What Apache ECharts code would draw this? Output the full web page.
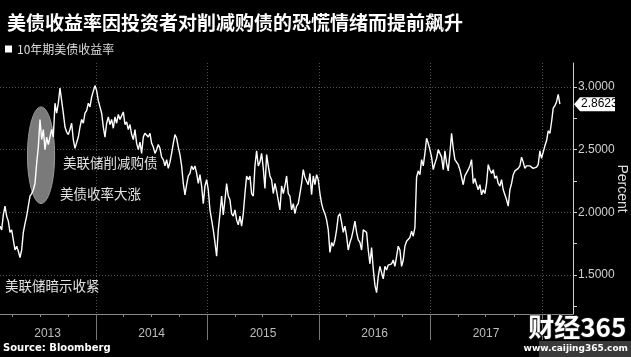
<!DOCTYPE html>
<html><head><meta charset="utf-8">
<script src="https://cdn.jsdelivr.net/npm/echarts@6/dist/echarts.min.js"></script>
<style>html,body{margin:0;padding:0;background:#000;}#c{width:631px;height:357px;}</style>
</head><body><div id="c"></div>
<script>
// ---------- data ----------
const chartTitle = '美债收益率因投资者对削减购债的恐慌情绪而提前飙升';
const seriesName = '10年期美债收益率';
const sourceText = 'Source: Bloomberg';
const axisName = 'Percent';
const startDate = '2013-02-20';
const endDate = '2018-03-01';
const axisMinDate = '2013-02-20';
const axisMaxDate = '2018-04-13';
const yMin = 1.19, yMax = 3.19;
const yTickLabels = [1.5, 2.0, 2.5, 3.0];
const yMinorTicks = [1.25, 1.75, 2.25, 2.75];
const yearStarts = ['2014-01-01','2015-01-01','2016-01-01','2017-01-01','2018-01-01'];
const yearLabelDates = ['2013-07-26','2014-07-02','2015-07-02','2016-07-02','2017-07-02'];
const quarterTicks = ['2013-04-01','2013-07-01','2013-10-01','2014-04-01','2014-07-01','2014-10-01',
  '2015-04-01','2015-07-01','2015-10-01','2016-04-01','2016-07-01','2016-10-01',
  '2017-04-01','2017-07-01','2017-10-01','2018-04-01'];
const lastValueLabel = '2.8623';

const yieldsA = [1.89,1.86,1.98,2.05,1.97,1.93,1.84,1.86,1.78,1.70,
1.73,1.69,1.64,1.70,1.84,1.91,1.97,1.97,2.13,2.15,
2.18,2.23,2.39,2.52,2.74,2.58,2.66,2.50,2.60,2.54,
2.60,2.66,2.60,2.87,2.79,2.87,2.99,2.89,2.79,2.68,
2.64,2.62,2.66,2.71,2.58,2.51,2.52,2.60,2.68,2.74,
2.71,2.79,2.81,2.87,2.84,2.92,2.93,3.01,2.97,2.89,
2.84,2.79,2.68,2.60,2.71,2.76,2.70,2.74,2.67,2.76,
2.71,2.78,2.74];
const yieldsB = [2.74,2.80,2.70,2.72,2.66,2.70,2.62,2.58,2.66,2.55,
2.50,2.56,2.47,2.60,2.63,2.64,2.60,2.63,2.55,2.52,
2.47,2.50,2.54,2.51,2.44,2.42,2.37,2.42,2.35,2.40,
2.47,2.55,2.62,2.59,2.52,2.46,2.37,2.23,2.14,2.22,
2.29,2.31,2.37,2.34,2.37,2.31,2.23,2.30,2.21,2.07,
2.21,2.26,2.18,2.02,1.94,1.86,1.76,1.65,1.86,1.99,
2.13,1.98,2.10,2.23,2.13,2.10,1.99,1.97,2.02];
const yieldsC = [1.94,1.90,1.97,1.89,1.99,2.15,2.29,2.26,2.29,2.15,
2.13,2.37,2.49,2.37,2.40,2.47,2.35,2.19,2.46,2.37,
2.29,2.26,2.15,2.23,2.17,2.18,2.02,2.21,2.15,2.21,
2.29,2.15,2.13,2.02,2.07,1.99,2.05,2.07,2.15,2.23,
2.34,2.28,2.29,2.22,2.31,2.14,2.29,2.22,2.30,2.26,
2.15,2.07,2.02,1.99,1.94,1.86,1.68,1.76,1.73,1.78,
1.86,1.97,1.99,1.92,1.84,1.89,1.81,1.70,1.76];
const yieldsD = [1.80,1.86,1.93,1.84,1.78,1.76,1.70,1.86,1.85,1.84,
1.70,1.59,1.72,1.55,1.42,1.36,1.49,1.57,1.56,1.47,
1.57,1.54,1.58,1.57,1.59,1.62,1.57,1.65,1.73,1.70,
1.57,1.62,1.73,1.77,1.76,1.80,1.85,1.81,1.88,2.28,
2.33,2.30,2.42,2.37,2.47,2.59,2.55,2.50,2.44,2.34,
2.39,2.43,2.50,2.47,2.44,2.34,2.49,2.39,2.33,2.47,
2.63,2.51,2.42,2.41,2.38,2.34,2.34,2.22,2.29];
const yieldsE = [2.29,2.34,2.37,2.42,2.23,2.27,2.22,2.18,2.22,2.14,
2.18,2.15,2.23,2.38,2.34,2.31,2.34,2.27,2.29,2.23,
2.21,2.26,2.18,2.17,2.10,2.05,2.18,2.23,2.30,2.33,
2.34,2.35,2.37,2.44,2.40,2.35,2.37,2.37,2.37,2.36,
2.35,2.36,2.36,2.38,2.49,2.43,2.42,2.53,2.57,2.65,
2.63,2.72,2.83,2.85,2.88,2.94,2.8623];

// ellipse highlight (data coordinates)
const ellipseDates = ['2013-05-21','2013-08-18'];
const ellipseValues = [2.07, 2.84];

const annotationTexts = ['美联储削减购债','美债收率大涨','美联储暗示收紧'];

// ---------- build ----------
const ts = s => new Date(s + 'T00:00:00Z').getTime();
const values = [].concat(yieldsA, yieldsB, yieldsC, yieldsD, yieldsE);
const t0 = ts(startDate), t1 = ts(endDate);
const data = values.map((v, i) => [t0 + (t1 - t0) * i / (values.length - 1), v]);

const CJK = '"Noto Sans CJK SC", "Noto Sans", sans-serif';
const LAT = '"Liberation Sans", Arial, sans-serif';
const grid = {left:0, right:58, top:63, bottom:43, containLabel:false, outerBoundsMode:'none'};
const chart = echarts.init(document.getElementById('c'), null, {renderer:'canvas'});
const dotted = {color:'#505050', type:[1,2], width:1};

chart.setOption({
  backgroundColor:'#000',
  animation:false,
  textStyle:{fontFamily:CJK},
  title:{text:chartTitle, left:2, top:8, textStyle:{color:'#fff', fontSize:19, fontWeight:'bold', fontFamily:CJK}},
  legend:{data:[seriesName], left:0, top:38, icon:'rect', itemWidth:7, itemHeight:7, itemGap:6,
    textStyle:{color:'#ddd', fontSize:12, fontFamily:CJK}},
  grid:grid,
  xAxis:[
    {type:'value', min:ts(axisMinDate), max:ts(axisMaxDate),
      axisLine:{show:true, onZero:false, lineStyle:{color:'#8a8a8a'}},
      axisTick:{show:true, customValues:quarterTicks.map(ts), length:3, lineStyle:{color:'#8a8a8a'}},
      axisLabel:{show:false}, splitLine:{show:false}},
    {type:'value', position:'bottom', min:ts(axisMinDate), max:ts(axisMaxDate),
      axisLine:{show:false, onZero:false},
      axisTick:{show:true, customValues:yearStarts.map(ts), length:26, lineStyle:{color:'#777'}},
      axisLabel:{show:true, customValues:yearLabelDates.map(ts), formatter:v => String(new Date(v).getUTCFullYear()),
        color:'#bdbdbd', fontSize:12, margin:14, fontFamily:LAT},
      splitLine:{show:true, lineStyle:dotted}}
  ],
  yAxis:[
    {type:'value', position:'right', min:yMin, max:yMax,
      axisLine:{show:true, onZero:false, lineStyle:{color:'#cfcfcf'}},
      axisTick:{show:true, customValues:yTickLabels, length:4, lineStyle:{color:'#cfcfcf'}},
      axisLabel:{show:true, customValues:yTickLabels, formatter:v => v.toFixed(4), color:'#d0d0d0', fontSize:12, margin:5,
        fontFamily:LAT},
      splitLine:{show:true, lineStyle:dotted}},
    {type:'value', position:'right', min:yMin, max:yMax,
      axisLine:{show:false},
      axisTick:{show:true, customValues:yMinorTicks, length:4, lineStyle:{color:'#cfcfcf'}},
      axisLabel:{show:false}, splitLine:{show:false}}
  ],
  series:[{type:'line', name:seriesName, xAxisIndex:0, yAxisIndex:0, data:data, symbol:'none', showSymbol:false,
    lineStyle:{color:'#fff', width:1.4}, itemStyle:{color:'#fff'}, z:5}]
});

// graphics anchored through the axes
const p1 = chart.convertToPixel({xAxisIndex:0, yAxisIndex:0}, [ts(ellipseDates[0]), ellipseValues[1]]);
const p2 = chart.convertToPixel({xAxisIndex:0, yAxisIndex:0}, [ts(ellipseDates[1]), ellipseValues[0]]);
const lastY = chart.convertToPixel({yAxisIndex:0}, values[values.length - 1]);
const axisX = chart.convertToPixel({xAxisIndex:0}, ts(axisMaxDate));
const midY = chart.convertToPixel({yAxisIndex:0}, (yMin + yMax) / 2);
const annStyle = {fill:'#e2e2e2', font:'13.5px ' + CJK};

chart.setOption({
  graphic:[
    {type:'ellipse', z:1, shape:{cx:(p1[0]+p2[0])/2, cy:(p1[1]+p2[1])/2, rx:Math.abs(p2[0]-p1[0])/2, ry:Math.abs(p2[1]-p1[1])/2},
      style:{fill:'#7a7a7a', stroke:'#9a9a9a', lineWidth:1}},
    {type:'text', left:63, top:156, z:10, style:Object.assign({text:annotationTexts[0]}, annStyle)},
    {type:'text', left:60, top:187, z:10, style:Object.assign({text:annotationTexts[1]}, annStyle)},
    {type:'text', left:5, top:279, z:10, style:Object.assign({text:annotationTexts[2]}, annStyle)},
    {type:'text', left:3, top:343, z:10, style:{text:sourceText, fill:'#fff', font:'bold 10px "DejaVu Sans", sans-serif'}},
    {type:'text', x:axisX + 49, y:midY, rotation:-Math.PI / 2, z:10,
      style:{text:axisName, fill:'#ddd', font:'14px ' + LAT, align:'center', verticalAlign:'middle'}},
    {type:'group', x:axisX + 1, y:lastY, z:20, children:[
      {type:'polygon', shape:{points:[[0,0],[6,-7],[41,-7],[41,7],[6,7]]}, style:{fill:'#fff'}},
      {type:'text', x:7, y:0, style:{text:lastValueLabel, fill:'#000', font:'12px ' + LAT, verticalAlign:'middle'}}
    ]},
    {type:'rect', right:0, top:341, z:20, shape:{width:92, height:16}, style:{fill:'#3a3a3a'}},
    {type:'text', right:4, top:313, z:21, style:{text:'财经365', fill:'#fff', stroke:'#222', lineWidth:1.5,
      font:'bold 26px "Noto Sans CJK SC", sans-serif'}},
    {type:'text', right:3, top:344, z:21, style:{text:'www.caijing365.com', fill:'#fff', font:'bold 9px "DejaVu Sans", sans-serif'}}
  ]
});
</script>
</body></html>
